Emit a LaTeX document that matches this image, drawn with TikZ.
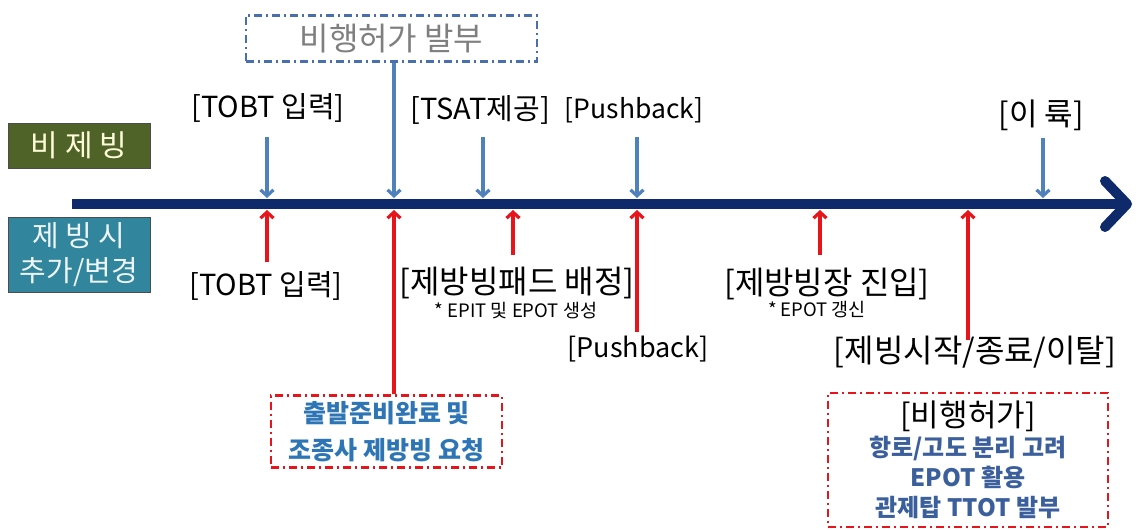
\documentclass[tikz,border=0pt]{standalone}
\usepackage{fontspec}
\setmainfont{Noto Sans CJK KR}
\usetikzlibrary{arrows.meta}
\definecolor{navy}{HTML}{0F2A6B}
\definecolor{sblue}{HTML}{4F81BD}
\definecolor{olive}{HTML}{4F6228}
\definecolor{teal2}{HTML}{31859C}
\definecolor{dblue}{HTML}{2E75B6}
\definecolor{sdblue}{HTML}{3A5F9C}
\definecolor{rred}{HTML}{E8141B}
\definecolor{gtext}{HTML}{7F7F7F}
\definecolor{boxblue}{HTML}{4A6FB0}
\newcommand{\fsz}[1]{\fontsize{#1}{#1}\selectfont}
\tikzset{
  lbl/.style={inner sep=0pt},
  note/.style={font=\fontsize{18.5}{20}\selectfont, inner sep=0pt},
  barrow/.style={draw=sblue, line width=3.2pt, -{Straight Barb[length=6pt,width=13pt]}},
  rarrow/.style={draw=rred, line width=3.2pt, -{Straight Barb[length=6pt,width=13pt]}},
  sidebox/.style={draw=black!70, line width=1pt, minimum width=142pt, inner sep=0pt},
  bluedash/.style={draw=boxblue, line width=2.4pt, dash pattern=on 8pt off 4pt on 2pt off 4pt},
  reddash/.style={draw=rred, line width=2.4pt, dash pattern=on 8pt off 4pt on 2pt off 4pt},
}
\begin{document}
\begin{tikzpicture}[x=1pt,y=-1pt]
\useasboundingbox (0,0) rectangle (1136,530);
% side boxes
\node[sidebox, fill=olive, minimum height=45pt, text=yellow!15, font=\fsz{30}] (nf) at (79,145.5) {비 제 빙};
\node[sidebox, fill=teal2, minimum height=75pt, align=center, text=white!92!teal2, font=\fontsize{29}{35}\selectfont] (wf) at (79,254.5) {제 빙 시\\추가/변경};
% timeline
\coordinate (ts) at (72,204);
\coordinate (te) at (1132,204);
\draw[navy, line width=10pt, -{Straight Barb[length=22pt,width=46pt,round]}] (ts) -- (te);
% top box
\node[bluedash, minimum width=291pt, minimum height=46pt, text=gtext, font=\fsz{32}] (perm) at (391.5,38.5) {비행허가 발부};
% top labels
\node[lbl, font=\fsz{29}] (t1) at (268,108) {[TOBT 입력]};
\node[lbl, font=\fsz{29}] (t2) at (480,110) {[TSAT제공]};
\node[lbl, font=\fsz{26.5}] (t3) at (634,110) {[Pushback]};
\node[lbl, font=\fsz{31}] (t4) at (1041,115) {[이 륙]};
% blue arrow anchors
\coordinate (b1s) at (267,137); \coordinate (b1e) at (267,198);
\coordinate (b2e) at (394,198);
\coordinate (b3s) at (483,137); \coordinate (b3e) at (483,198);
\coordinate (b4s) at (637,137); \coordinate (b4e) at (637,198);
\coordinate (b5s) at (1043,138); \coordinate (b5e) at (1043,198);
\draw[barrow] (b1s) -- (b1e);
\draw[barrow] (perm.south -| b2e) -- (b2e);
\draw[barrow] (b3s) -- (b3e);
\draw[barrow] (b4s) -- (b4e);
\draw[barrow] (b5s) -- (b5e);
% bottom labels
\node[lbl, font=\fsz{29}] (l1) at (266,286) {[TOBT 입력]};
\node[lbl, font=\fsz{32}] (l2) at (517,283) {[제방빙패드 배정]};
\node[note] (n2) at (516,311) {* EPIT 및 EPOT 생성};
\node[lbl, font=\fsz{27}] (l3) at (638,349) {[Pushback]};
\node[lbl, font=\fsz{32}] (l4) at (827,284) {[제방빙장 진입]};
\node[note] (n4) at (817,310) {* EPOT 갱신};
\node[lbl, font=\fsz{32}] (l5) at (975,352) {[제빙시작/종료/이탈]};
% bottom boxes
\node[reddash, minimum width=231pt, minimum height=72pt, align=center, text=dblue, font=\bfseries\fontsize{25}{37}\selectfont] (req) at (386.5,431.5) {출발준비완료 및\\조종사 제방빙 요청};
\node[reddash, minimum width=280pt, minimum height=134pt, align=center, font=\bfseries\fontsize{24}{30}\selectfont] (clr) at (968,460) {{\mdseries\fontsize{31}{30}\selectfont[비행허가]}\\\color{sdblue}항로/고도 분리 고려\\\color{sdblue}EPOT 활용\\\color{sdblue}관제탑 TTOT 발부};
% red arrows
\coordinate (r1s) at (267,262); \coordinate (r1e) at (267,210);
\coordinate (r2e) at (394,210);
\coordinate (r3s) at (513,255); \coordinate (r3e) at (513,210);
\coordinate (r4s) at (637,332); \coordinate (r4e) at (637,210);
\coordinate (r5s) at (820,255); \coordinate (r5e) at (820,210);
\coordinate (r6s) at (968,340); \coordinate (r6e) at (968,210);
\draw[rarrow] (r1s) -- (r1e);
\draw[rarrow] (req.north -| r2e) -- (r2e);
\draw[rarrow] (r3s) -- (r3e);
\draw[rarrow] (r4s) -- (r4e);
\draw[rarrow] (r5s) -- (r5e);
\draw[rarrow] (r6s) -- (r6e);
\end{tikzpicture}
\end{document}
